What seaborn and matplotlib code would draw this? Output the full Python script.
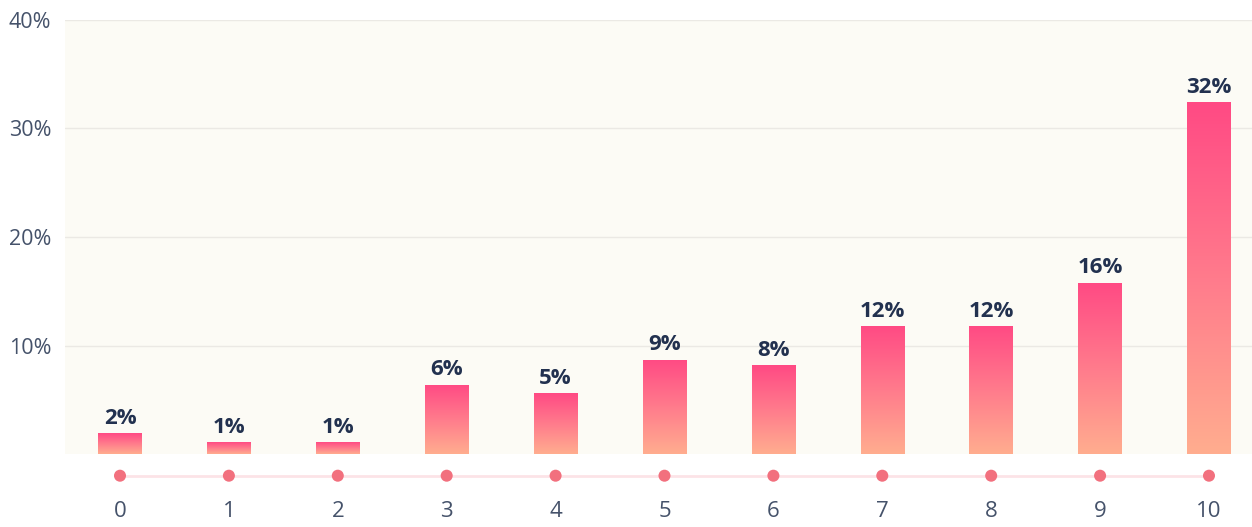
import numpy as np
import pandas as pd
import matplotlib
matplotlib.use("Agg")
import matplotlib.pyplot as plt
import seaborn as sns
from matplotlib.colors import LinearSegmentedColormap

# values (share of answers per score)
scores = ["0", "1", "2", "3", "4", "5", "6", "7", "8", "9", "10"]
shares = [1.9, 1.1, 1.1, 6.4, 5.6, 8.7, 8.2, 11.8, 11.8, 15.8, 32.4]
labels = ["2%", "1%", "1%", "6%", "5%", "9%", "8%", "12%", "12%", "16%", "32%"]
yticks = [10, 20, 30, 40]

df = pd.DataFrame({"score": scores, "share": shares})

sns.set_style("white")
plt.rcParams["font.family"] = ["Open Sans", "DejaVu Sans"]

fig = plt.figure(figsize=(12.52, 5.27), dpi=100)
ax = fig.add_axes([65 / 1252, 73 / 527, 1 - 65 / 1252, 434 / 527])
ax.set_facecolor("#fcfbf5")

sns.barplot(data=df, x="score", y="share", ax=ax, width=0.4, color="#ff5a88",
            zorder=3)

# gradient fill for each bar, pink on top to peach at the base
cmap = LinearSegmentedColormap.from_list("bar", ["#ffad8f", "#ff7b8c", "#ff4a84"])
grad = np.linspace(0, 1, 256).reshape(-1, 1)
for bar, lab in zip(ax.patches, labels):
    x0, w, h = bar.get_x(), bar.get_width(), bar.get_height()
    bar.set_facecolor("none")
    bar.set_edgecolor("none")
    im = ax.imshow(grad, cmap=cmap, origin="lower", aspect="auto",
                   extent=[x0, x0 + w, 0, h], zorder=3)
    im.set_clip_path(bar)
    ax.text(x0 + w / 2, h + 0.4, lab, ha="center", va="bottom",
            fontsize=16, fontweight="bold", color="#22314f", zorder=4)

# dots on a line under the axis
xs = np.arange(len(scores))
ax.plot(xs, [-2.0] * len(xs), color="#fce3e7", lw=2, clip_on=False, zorder=1)
ax.scatter(xs, [-2.0] * len(xs), s=75, color="#f2707e", edgecolor="none",
           clip_on=False, zorder=2)

ax.set_xlim(-0.505, 10.395)
ax.set_ylim(0, 40)
ax.set_yticks(yticks)
ax.set_yticklabels([f"{t}%" for t in yticks])
ax.yaxis.grid(True, color="#ebe9e4", lw=1)
ax.set_axisbelow(True)
ax.tick_params(axis="y", length=0, pad=10, labelsize=15.5, labelcolor="#45526a")
ax.tick_params(axis="x", length=0, pad=34, labelsize=16, labelcolor="#45526a")
for lab in ax.get_yticklabels():
    lab.set_horizontalalignment("right")
ax.set_xlabel("")
ax.set_ylabel("")
sns.despine(ax=ax, left=True, bottom=True)

fig.savefig("out.png", dpi=100)
